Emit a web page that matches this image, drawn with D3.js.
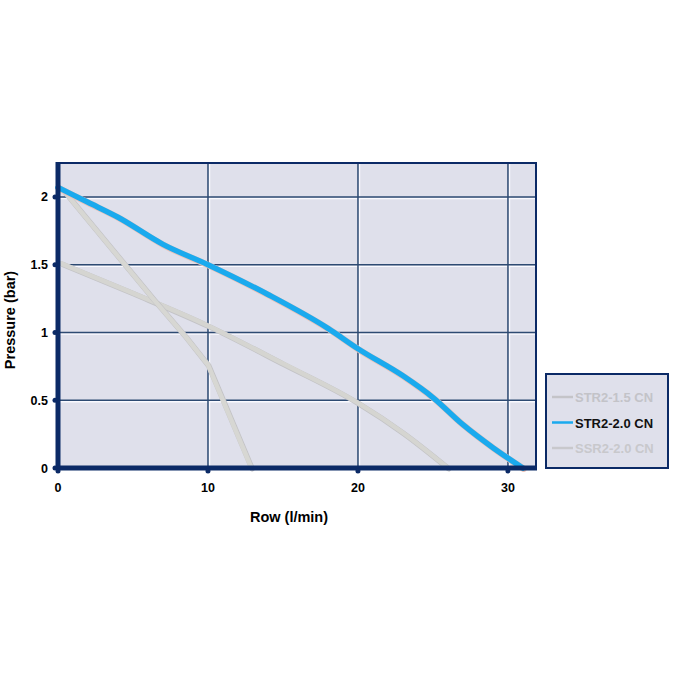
<!DOCTYPE html>
<meta charset="utf-8">
<style>
    body { margin: 0; background: #fff; }
    svg { font-family: "Liberation Sans", Arial, sans-serif; font-weight: bold; }
</style>
<title>Pump curves</title>
<body>
<script src="https://d3js.org/d3.v7.min.js"></script>
<script>
    // flow (l/min) / pressure (bar)
    const str15Flow = [0.2, 5, 10, 15, 20, 23, 26];
    const str15Pres = [1.51, 1.29, 1.05, 0.77, 0.48, 0.26, 0.0];

    const str20Flow = [0, 2, 4, 7, 10, 14, 18, 20, 23, 25, 27, 29, 31];
    const str20Pres = [2.07, 1.96, 1.85, 1.65, 1.5, 1.28, 1.03, 0.88, 0.68, 0.52, 0.32, 0.15, 0.0];

    const ssr20Flow = [0.5, 6.4, 8.5, 10, 12.9];
    const ssr20Pres = [2.03, 1.24, 0.97, 0.76, 0.0];

    const xTicks = [0, 10, 20, 30];
    const yTicks = [0, 0.5, 1, 1.5, 2];
    const yTickLabels = ["0", "0.5", "1", "1.5", "2"];

    const seriesNames = ["STR2-1.5 CN", "STR2-2.0 CN", "SSR2-2.0 CN"];

    const width = 675, height = 675;
    const navy = "#0b2a66";
    const grid = "#2d4a72";
    const plotBg = "#dfe0eb";

    const svg = d3.select("body").append("svg")
        .attr("width", width)
        .attr("height", height);

    const x = d3.scaleLinear().domain([0, 31.87]).range([58, 536]);
    const y = d3.scaleLinear().domain([0, 2.25]).range([468, 163]);

    // plot background
    svg.append("rect")
        .attr("x", x(0)).attr("y", y(2.25))
        .attr("width", x(31.87) - x(0)).attr("height", y(0) - y(2.25))
        .attr("fill", plotBg);

    // grid lines with a white highlight next to them
    const gx = xTicks.filter(d => d > 0);
    const gy = yTicks.filter(d => d > 0);
    svg.append("g").selectAll("line").data(gx).enter().append("line")
        .attr("x1", d => x(d) + 1.5).attr("x2", d => x(d) + 1.5)
        .attr("y1", y(2.25)).attr("y2", y(0))
        .attr("stroke", "#fafaff").attr("stroke-width", 1.5);
    svg.append("g").selectAll("line").data(gy).enter().append("line")
        .attr("y1", d => y(d) + 1.5).attr("y2", d => y(d) + 1.5)
        .attr("x1", x(0)).attr("x2", x(31.87))
        .attr("stroke", "#fafaff").attr("stroke-width", 1.5);
    svg.append("g").selectAll("line").data(gx).enter().append("line")
        .attr("x1", d => x(d)).attr("x2", d => x(d))
        .attr("y1", y(2.25)).attr("y2", y(0))
        .attr("stroke", grid).attr("stroke-width", 1.5);
    svg.append("g").selectAll("line").data(gy).enter().append("line")
        .attr("y1", d => y(d)).attr("y2", d => y(d))
        .attr("x1", x(0)).attr("x2", x(31.87))
        .attr("stroke", grid).attr("stroke-width", 1.5);

    // top / right frame
    svg.append("path")
        .attr("d", `M${x(0)},${y(2.25)}H${x(31.87)}V${y(0)}`)
        .attr("fill", "none").attr("stroke", navy).attr("stroke-width", 2);

    // curves
    const smooth = d3.line()
        .x(d => x(d[0]))
        .y(d => y(d[1]))
        .curve(d3.curveMonotoneX);
    const straight = d3.line()
        .x(d => x(d[0]))
        .y(d => y(d[1]));

    const zip = (a, b) => a.map((v, i) => [v, b[i]]);

    function drawCurve(pts, gen, color, shade, w) {
        svg.append("path").datum(pts)
            .attr("d", gen).attr("fill", "none")
            .attr("stroke", shade).attr("stroke-width", w + 1)
            .attr("transform", "translate(0.7,0.7)")
            .attr("stroke-linecap", "round").attr("stroke-linejoin", "round");
        svg.append("path").datum(pts)
            .attr("d", gen).attr("fill", "none")
            .attr("stroke", color).attr("stroke-width", w)
            .attr("stroke-linecap", "round").attr("stroke-linejoin", "round");
    }

    drawCurve(zip(str15Flow, str15Pres), smooth, "#d5d5d1", "#c3c3c6", 4.5);
    drawCurve(zip(ssr20Flow, ssr20Pres), straight, "#d7d7d3", "#c3c3c6", 4.5);
    drawCurve(zip(str20Flow, str20Pres), smooth, "#1aaaee", "#ecc2b8", 5.5);

    // axes
    svg.append("line")
        .attr("x1", x(0)).attr("x2", x(0))
        .attr("y1", y(2.25) - 1).attr("y2", y(0) + 2)
        .attr("stroke", navy).attr("stroke-width", 5);
    svg.append("line")
        .attr("x1", x(0) - 2).attr("x2", x(31.87) + 1)
        .attr("y1", y(0)).attr("y2", y(0))
        .attr("stroke", navy).attr("stroke-width", 5);

    // tick dots
    svg.append("g").selectAll("circle").data(yTicks).enter().append("circle")
        .attr("cx", x(0) - 3).attr("cy", d => y(d)).attr("r", 2.5).attr("fill", navy);
    svg.append("g").selectAll("circle").data(xTicks).enter().append("circle")
        .attr("cx", d => x(d)).attr("cy", y(0) + 3).attr("r", 2.5).attr("fill", navy);

    // tick labels
    svg.append("g").selectAll("text").data(yTicks).enter().append("text")
        .attr("x", x(0) - 10).attr("y", d => y(d) + 4.5)
        .attr("text-anchor", "end").attr("font-size", 12.5)
        .text((d, i) => yTickLabels[i]);
    svg.append("g").selectAll("text").data(xTicks).enter().append("text")
        .attr("x", d => x(d)).attr("y", y(0) + 24)
        .attr("text-anchor", "middle").attr("font-size", 12.5)
        .text(d => d);

    // axis titles
    svg.append("text")
        .attr("x", 289).attr("y", 522)
        .attr("text-anchor", "middle").attr("font-size", 14.5)
        .text("Row (l/min)");
    svg.append("text")
        .attr("transform", "translate(15,320) rotate(-90)")
        .attr("text-anchor", "middle").attr("font-size", 14.5)
        .text("Pressure (bar)");

    // legend
    const lg = svg.append("g").attr("transform", "translate(546,374)");
    lg.append("rect")
        .attr("width", 122).attr("height", 94)
        .attr("fill", plotBg).attr("stroke", navy).attr("stroke-width", 2);
    const lColors = ["#c4c4c8", "#1aaaee", "#c8c8cc"];
    const lText = ["#c3c3c8", "#111", "#c8c8cc"];
    const item = lg.selectAll("g.item").data(seriesNames).enter().append("g")
        .attr("class", "item")
        .attr("transform", (d, i) => `translate(0,${23 + i * 25.5})`);
    item.append("line")
        .attr("x1", 6).attr("x2", 27).attr("y1", 0).attr("y2", 0)
        .attr("stroke", (d, i) => lColors[i]).attr("stroke-width", 2.5);
    item.append("text")
        .attr("x", 29).attr("y", 5).attr("font-size", 13)
        .attr("fill", (d, i) => lText[i])
        .text(d => d);
</script>
</body>
